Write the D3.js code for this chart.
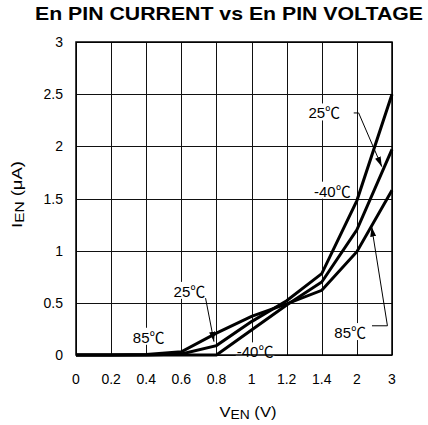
<!DOCTYPE html>
<html><head><meta charset="utf-8">
<script src="https://cdn.jsdelivr.net/npm/d3@7"></script>
<style>html,body{margin:0;padding:0;background:#fff;}svg{display:block;font-family:"Liberation Sans",Arial,sans-serif;}</style>
</head><body>
<script>
// Data
const xLabels = ["0","0.2","0.4","0.6","0.8","1","1.2","1.4","2","3"];
const yTicks = [0,0.5,1,1.5,2,2.5,3];
const yTickLabels = ["0","0.5","1","1.5","2","2.5","3"];
const i25  = [0,0,0,0.01,0.09,0.32,0.52,0.78,1.48,2.5];
const im40 = [0,0,0,0,0,0.24,0.48,0.70,1.20,1.97];
const i85  = [0,0,0.005,0.03,0.21,0.37,0.49,0.62,0.99,1.58];

const W=428,H=425;
const m={l:76,r:36,t:42,b:70};
const svg=d3.select("body").append("svg").attr("width",W).attr("height",H);
const x=d3.scalePoint().domain(xLabels).range([m.l,W-m.r]);
const y=d3.scaleLinear().domain([0,3]).range([H-m.b,m.t]);

// grid
const g=svg.append("g");
g.selectAll(".vg").data(xLabels).join("line")
 .attr("x1",d=>Math.round(x(d))+0.5).attr("x2",d=>Math.round(x(d))+0.5)
 .attr("y1",y(0)).attr("y2",y(3)).attr("stroke","#111").attr("stroke-width",1);
g.selectAll(".hg").data(yTicks).join("line")
 .attr("y1",d=>Math.round(y(d))+0.5).attr("y2",d=>Math.round(y(d))+0.5)
 .attr("x1",x("0")).attr("x2",x("3")).attr("stroke","#111").attr("stroke-width",1);
const bgLayer=svg.append("g");
svg.append("rect").attr("x",x("0")).attr("y",y(3)).attr("width",x("3")-x("0")).attr("height",y(0)-y(3))
 .attr("fill","none").attr("stroke","#000").attr("stroke-width",1.5);

// tick labels
svg.selectAll(".xt").data(xLabels).join("text")
 .attr("x",d=>x(d)).attr("y",H-m.b+29).attr("text-anchor","middle").attr("font-size",14).text(d=>d);
svg.selectAll(".yt").data(yTicks).join("text")
 .attr("x",m.l-13).attr("y",d=>y(d)+5).attr("text-anchor","end").attr("font-size",14).text((d,i)=>yTickLabels[i]);

// title
svg.append("text").attr("x",229).attr("y",19.5).attr("text-anchor","middle")
 .attr("font-size",18.5).attr("font-weight","bold").attr("textLength",388).attr("lengthAdjust","spacingAndGlyphs")
 .text("En PIN CURRENT vs En PIN VOLTAGE");

// axis titles
const xt=svg.append("text").attr("x",248).attr("y",417).attr("text-anchor","middle").attr("font-size",15)
 .attr("textLength",57).attr("lengthAdjust","spacingAndGlyphs");
xt.append("tspan").text("V");
xt.append("tspan").attr("font-size",12.5).attr("dy",2).text("EN");
xt.append("tspan").attr("dy",-2).text(" (V)");
const yt=svg.append("text").attr("transform","translate(22,194.5) rotate(-90)").attr("text-anchor","middle").attr("font-size",15)
 .attr("textLength",67).attr("lengthAdjust","spacingAndGlyphs");
yt.append("tspan").text("I");
yt.append("tspan").attr("font-size",12.5).attr("dy",2).text("EN");
yt.append("tspan").attr("dy",-2).text(" (μA)");

// lines
const line=d3.line().x((d,i)=>x(xLabels[i])).y(d=>y(d));
[i25,im40,i85].forEach(s=>{
  svg.append("path").attr("d",line(s)).attr("fill","none").attr("stroke","#000")
   .attr("stroke-width",3).attr("stroke-linejoin","miter");
});

// annotations (positions in data space: x index, y value)
const xi=v=>m.l+(W-m.r-m.l)*v/(xLabels.length-1);
const labels=[
 {n:"25",xi:7.07,v:2.32},
 {n:"-40",xi:7.3,v:1.57},
 {n:"85",xi:7.81,v:0.215},
 {n:"25",xi:3.23,v:0.61},
 {n:"85",xi:2.07,v:0.17},
 {n:"-40",xi:5.1,v:0.03}
];
svg.append("defs").append("marker").attr("id","ah").attr("viewBox","0 0 10 6")
 .attr("refX",10).attr("refY",3).attr("markerWidth",10).attr("markerHeight",6)
 .attr("markerUnits","userSpaceOnUse").attr("orient","auto")
 .append("path").attr("d","M0,0L10,3L0,6Z").attr("fill","#000");
const arrows=[
 [[7.91,2.32],[8.05,2.32],[8.71,1.805]],
 [[8.43,0.28],[8.87,0.28],[8.42,1.23]],
 [[3.69,0.545],[3.93,0.128]]
];
const al=d3.line().x(d=>xi(d[0])).y(d=>y(d[1]));
labels.forEach(L=>{
  const t=svg.append("text").attr("x",xi(L.xi)).attr("y",y(L.v)+5.5).attr("text-anchor","middle")
   .attr("font-size",15);
  t.append("tspan").text(L.n);
  t.append("tspan").attr("font-family","'Noto Sans CJK SC'").attr("font-size",15).text("℃");
  const b=t.node().getBBox();
  bgLayer.append("rect").attr("x",b.x-1).attr("y",b.y+2).attr("width",b.width+2).attr("height",b.height-4).attr("fill","#fff");
});
arrows.forEach(a=>{
  svg.append("path").attr("d",al(a)).attr("fill","none").attr("stroke","#000").attr("stroke-width",1)
   .attr("marker-end","url(#ah)");
});
</script>
</body></html>
